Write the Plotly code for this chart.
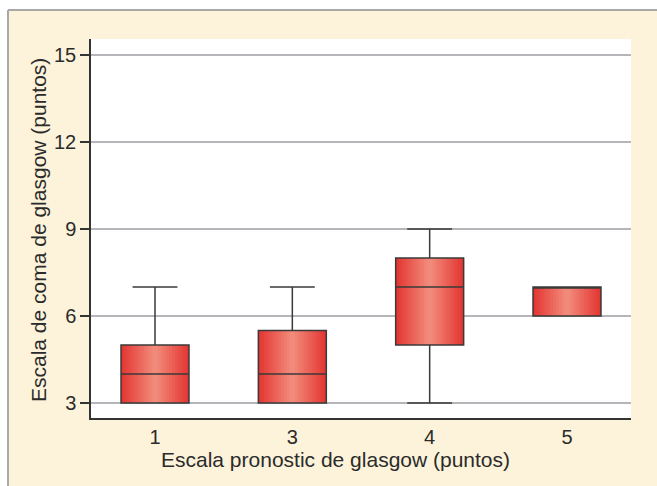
import plotly.graph_objects as go

# ---- data ----
categories = ["1", "3", "4", "5"]
q1_vals = [3, 3, 5, 6]
median_vals = [4, 4, 7, 7]
q3_vals = [5, 5.5, 8, 7]
lower_vals = [3, 3, 3, 6]
upper_vals = [7, 7, 9, 7]
y_ticks = [3, 6, 9, 12, 15]

x_title = "Escala pronostic de glasgow (puntos)"
y_title = "Escala de coma de glasgow (puntos)"

# ---- style ----
W, H = 657, 486
ML, MR, MT, MB = 91, 26, 39, 68
PW, PH = W - ML - MR, H - MT - MB
BOX_W = 0.495
edge = (228, 56, 52)
center = (241, 138, 122)
N_LAYERS = 12

def px_x(p):
    return (p - ML) / PW

def px_y(p):
    return (H - MB - p) / PH

fig = go.Figure()

# gradient layers
for k in range(N_LAYERS):
    t = k / (N_LAYERS - 1)
    c = tuple(int(round(edge[i] + (center[i] - edge[i]) * t)) for i in range(3))
    w = BOX_W * (1 - k / N_LAYERS)
    fig.add_trace(go.Box(
        x=categories, q1=q1_vals, median=median_vals, q3=q3_vals,
        lowerfence=lower_vals, upperfence=upper_vals,
        width=w, fillcolor="rgb(%d,%d,%d)" % c,
        line=dict(width=0, color="rgba(0,0,0,0)"),
        boxpoints=False, showlegend=False, hoverinfo="skip",
    ))

# outline trace
fig.add_trace(go.Box(
    x=categories, q1=q1_vals, median=median_vals, q3=q3_vals,
    lowerfence=lower_vals, upperfence=upper_vals,
    width=BOX_W, fillcolor="rgba(0,0,0,0)",
    line=dict(width=1.5, color="#3a3a3a"),
    whiskerwidth=0.66, boxpoints=False, showlegend=False,
))

cream = "#FDF3DA"
border = "#A9A9A9"
x0p = px_x(8)
y0p = px_y(10)
shapes = [
    dict(type="rect", xref="paper", yref="paper", x0=-0.3, x1=x0p, y0=-0.4, y1=1.3,
         fillcolor="white", line=dict(width=0), layer="below"),
    dict(type="rect", xref="paper", yref="paper", x0=-0.3, x1=1.3, y0=y0p, y1=1.3,
         fillcolor="white", line=dict(width=0), layer="below"),
    dict(type="line", xref="paper", yref="paper", x0=x0p, x1=1.3, y0=y0p, y1=y0p,
         line=dict(width=2, color=border)),
    dict(type="line", xref="paper", yref="paper", x0=x0p, x1=x0p, y0=-0.4, y1=y0p,
         line=dict(width=2, color=border)),
]

font_family = "Liberation Sans, Arial, sans-serif"

fig.update_layout(
    width=W, height=H,
    margin=dict(l=ML, r=MR, t=MT, b=MB, pad=0),
    paper_bgcolor=cream, plot_bgcolor="white",
    boxmode="overlay",
    font=dict(family=font_family, size=20, color="#2b2b2b"),
    shapes=shapes,
    annotations=[
        dict(text=x_title, xref="paper", yref="paper", x=px_x(335), y=px_y(459),
             xanchor="center", yanchor="middle", showarrow=False,
             font=dict(size=21, color="#2b2b2b")),
        dict(text=y_title, xref="paper", yref="paper", x=px_x(38), y=px_y(230),
             xanchor="center", yanchor="middle", showarrow=False, textangle=-90,
             font=dict(size=21, color="#2b2b2b")),
    ],
    xaxis=dict(
        type="category", categoryorder="array", categoryarray=categories,
        range=[-0.466, 3.466], showline=True, linecolor="#333333", linewidth=1.5,
        ticks="", showgrid=False, zeroline=False, fixedrange=True,
        tickfont=dict(size=20),
    ),
    yaxis=dict(
        range=[2.48, 15.55], tickvals=y_ticks, ticktext=[str(v) for v in y_ticks],
        showline=True, linecolor="#333333", linewidth=1.5,
        ticks="outside", ticklen=9, tickwidth=1.5, tickcolor="#333333",
        showgrid=True, gridcolor="#B6B6BA", gridwidth=1.5, zeroline=False,
        tickfont=dict(size=20),
    ),
)

fig.write_html(
    "out.html",
    config={"displayModeBar": False},
    post_script="document.body.style.margin='0';document.body.style.padding='0';",
)
